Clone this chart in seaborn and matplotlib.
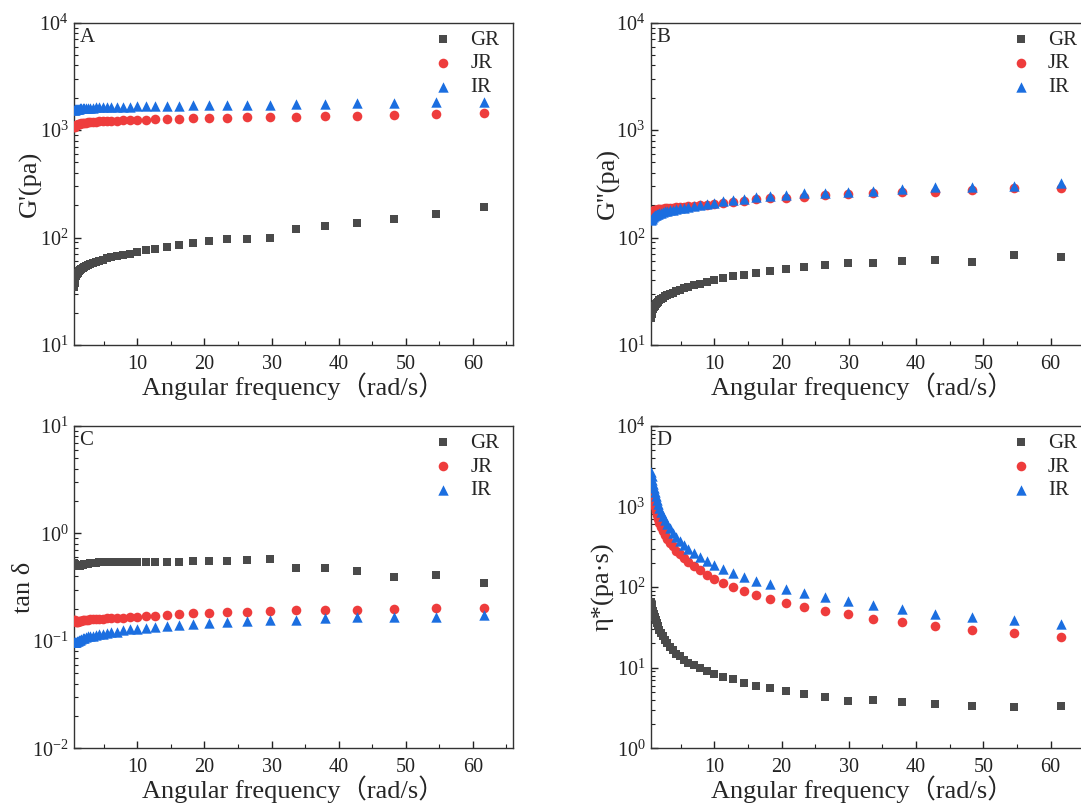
import matplotlib
matplotlib.use("Agg")
import matplotlib.pyplot as plt
import seaborn as sns
from matplotlib.ticker import LogLocator, MultipleLocator, NullFormatter, FixedLocator

# angular frequency (rad/s)
FREQ = [0.616, 0.695, 0.785, 0.886, 1.00, 1.13, 1.27, 1.43, 1.62, 1.83,
        2.06, 2.33, 2.63, 2.97, 3.35, 3.79, 4.27, 4.83, 5.45, 6.15,
        6.94, 7.84, 8.85, 10.0, 11.3, 12.7, 14.4, 16.2, 18.3, 20.7,
        23.4, 26.4, 29.8, 33.6, 37.9, 42.8, 48.3, 54.5, 61.6]

# A - storage modulus G' (Pa)
G1_GR = [35, 38, 41, 43.5, 45.5, 47, 48.5, 50, 51, 52,
         53, 54.5, 56, 57, 58, 59.5, 61, 62.5, 64, 65.5,
         67.5, 69, 71, 73, 77, 79, 82, 85, 89, 93,
         96, 98, 100, 120, 127, 136, 150, 166, 193]
G1_JR = [1060, 1080, 1095, 1110, 1120, 1130, 1140, 1148, 1155, 1162,
         1170, 1176, 1182, 1188, 1194, 1200, 1205, 1210, 1215, 1220,
         1225, 1230, 1235, 1240, 1250, 1260, 1270, 1275, 1285, 1290,
         1305, 1315, 1325, 1335, 1350, 1365, 1385, 1405, 1435]
G1_IR = [1540, 1555, 1565, 1575, 1580, 1585, 1590, 1595, 1600, 1604,
         1608, 1612, 1616, 1620, 1624, 1628, 1632, 1636, 1640, 1644,
         1648, 1652, 1656, 1660, 1668, 1675, 1683, 1690, 1700, 1708,
         1715, 1722, 1730, 1740, 1755, 1770, 1790, 1812, 1840]

# B - loss modulus G'' (Pa)
G2_GR = [18, 19.5, 20.8, 21.8, 22.6, 23.3, 24, 24.7, 25.4, 26.1,
         26.8, 27.6, 28.4, 29.2, 30, 30.8, 31.7, 32.7, 33.7, 34.8,
         36, 37.3, 38.8, 40.5, 42, 43.5, 45, 47, 49, 51.3,
         53, 55.6, 58.4, 57.5, 61, 62, 59, 68.4, 66]
G2_JR = [172, 174, 176, 178, 179, 180, 181, 182, 183, 184,
         185, 186, 187, 188, 189, 190, 191, 193, 194, 196,
         198, 200, 203, 207, 211, 215, 220, 228, 232, 236,
         240, 249, 254, 258, 267, 267, 277, 287, 291]
G2_IR = [146, 150, 153, 156, 159, 161, 163, 165, 167, 169,
         171, 173, 175, 177, 179, 181, 184, 187, 190, 193,
         197, 201, 206, 212, 218, 225, 230, 238, 242, 249,
         258, 262, 267, 271, 281, 294, 294, 302, 324]

# C - loss tangent
TAN_GR = [0.53, 0.52, 0.515, 0.51, 0.505, 0.50, 0.50, 0.50, 0.505, 0.51,
          0.515, 0.52, 0.525, 0.53, 0.532, 0.535, 0.537, 0.539, 0.54, 0.541,
          0.542, 0.543, 0.544, 0.545, 0.545, 0.54, 0.54, 0.538, 0.55, 0.55,
          0.55, 0.562, 0.578, 0.48, 0.48, 0.45, 0.39, 0.41, 0.343]
TAN_JR = [0.158, 0.155, 0.152, 0.150, 0.150, 0.151, 0.152, 0.153, 0.154, 0.155,
          0.156, 0.157, 0.158, 0.159, 0.159, 0.160, 0.160, 0.161, 0.162, 0.163,
          0.164, 0.165, 0.167, 0.168, 0.170, 0.172, 0.175, 0.178, 0.181, 0.183,
          0.185, 0.187, 0.191, 0.192, 0.194, 0.192, 0.197, 0.202, 0.204]
TAN_IR = [0.098, 0.097, 0.097, 0.098, 0.099, 0.100, 0.102, 0.103, 0.104, 0.106,
          0.107, 0.108, 0.110, 0.111, 0.112, 0.114, 0.115, 0.117, 0.118, 0.120,
          0.122, 0.125, 0.128, 0.130, 0.132, 0.134, 0.137, 0.140, 0.143, 0.147,
          0.150, 0.153, 0.156, 0.158, 0.162, 0.166, 0.166, 0.167, 0.175]

# D - complex viscosity (Pa.s)
ETA_GR = [65, 60, 55, 51, 47, 43, 39.5, 36, 32.5, 29.5,
          27, 24.5, 22, 20, 18.2, 16.5, 15, 13.8, 12.6, 11.6,
          10.7, 9.9, 9.1, 8.4, 7.75, 7.2, 6.5, 6.0, 5.55, 5.1,
          4.7, 4.3, 3.9, 3.98, 3.72, 3.52, 3.35, 3.29, 3.35]
ETA_JR = [1750, 1550, 1380, 1230, 1100, 980, 880, 785, 700, 625,
          560, 500, 450, 400, 358, 320, 285, 255, 228, 204,
          182, 162, 143, 127, 113, 100, 89.6, 80.7, 71.3, 63.6,
          57.3, 51, 46, 40.6, 36.6, 33, 29.4, 26.7, 24.1]
ETA_IR = [2650, 2380, 2130, 1900, 1700, 1510, 1350, 1200, 1070, 950,
          850, 755, 675, 600, 535, 476, 425, 378, 337, 300,
          268, 238, 211, 188, 170, 151, 135, 120, 108, 95,
          85, 76, 67, 60, 53.5, 46.5, 43, 39.5, 35]

SAMPLES = ["GR", "JR", "IR"]
COLORS = {"GR": "#4a4a4a", "JR": "#ee3c3c", "IR": "#1b6ee0"}
MARKERS = {"GR": "s", "JR": "o", "IR": "^"}
SIZES = {"GR": 40, "JR": 48, "IR": 56}

sns.set_theme(style="ticks")
plt.rcParams["font.family"] = ["Liberation Serif", "Noto Sans CJK SC"]
plt.rcParams["mathtext.fontset"] = "stix"
plt.rcParams["axes.edgecolor"] = "#333333"
plt.rcParams["axes.linewidth"] = 1.0

XLABEL = "Angular frequency（rad/s）"


def draw_panel(ax, series, letter, ylabel, ylim, ylab_x, xlab_x):
    for name in SAMPLES:
        sns.scatterplot(x=FREQ, y=series[name], ax=ax, marker=MARKERS[name],
                        color=COLORS[name], s=SIZES[name], linewidth=0,
                        label=name, zorder=3)
    ax.set_yscale("log")
    ax.set_ylim(*ylim)
    ax.set_xlim(0.57, 66)
    ax.xaxis.set_major_locator(FixedLocator([10, 20, 30, 40, 50, 60]))
    ax.xaxis.set_minor_locator(MultipleLocator(5))
    ax.yaxis.set_major_locator(LogLocator(base=10, numticks=10))
    ax.yaxis.set_minor_locator(LogLocator(base=10, subs=range(2, 10), numticks=10))
    ax.yaxis.set_minor_formatter(NullFormatter())
    ax.tick_params(which="both", direction="in", top=False, right=False,
                   labelsize=14.5, colors="#222222", pad=4)
    ax.tick_params(axis="x", which="both", pad=7)
    ax.tick_params(which="major", length=5, width=1)
    ax.tick_params(which="minor", length=3, width=0.8)

    ax.set_xlabel(XLABEL, fontsize=19)
    ax.set_ylabel(ylabel, fontsize=19)
    ax.xaxis.set_label_coords(xlab_x, -0.085)
    ax.yaxis.set_label_coords(ylab_x, 0.5)

    ax.text(0.012, 0.985, letter, transform=ax.transAxes, ha="left", va="top",
            fontsize=15)
    ax.legend(loc="upper right", bbox_to_anchor=(0.985, 1.0), frameon=False,
              fontsize=15, handlelength=1.0, handletextpad=0.8, labelspacing=0.2,
              borderpad=0.1, borderaxespad=0.25)


def main():
    fig = plt.figure(figsize=(10.81, 8.05), dpi=100)
    ax_a = fig.add_axes([0.0685, 0.5714, 0.4061, 0.4004])
    ax_b = fig.add_axes([0.6022, 0.5714, 0.4070, 0.4004])
    ax_c = fig.add_axes([0.0685, 0.0704, 0.4061, 0.4004])
    ax_d = fig.add_axes([0.6022, 0.0704, 0.4070, 0.4004])

    draw_panel(ax_a, {"GR": G1_GR, "JR": G1_JR, "IR": G1_IR}, "A",
               "G'(pa)", (10, 1e4), -0.073, 0.5)
    draw_panel(ax_b, {"GR": G2_GR, "JR": G2_JR, "IR": G2_IR}, "B",
               "G''(pa)", (10, 1e4), -0.07, 0.48)
    draw_panel(ax_c, {"GR": TAN_GR, "JR": TAN_JR, "IR": TAN_IR}, "C",
               "tan δ", (1e-2, 10), -0.089, 0.5)
    draw_panel(ax_d, {"GR": ETA_GR, "JR": ETA_JR, "IR": ETA_IR}, "D",
               "η*(pa·s)", (1, 1e4), -0.082, 0.48)

    fig.savefig("out.png", dpi=100)
    plt.close(fig)


if __name__ == "__main__":
    main()
